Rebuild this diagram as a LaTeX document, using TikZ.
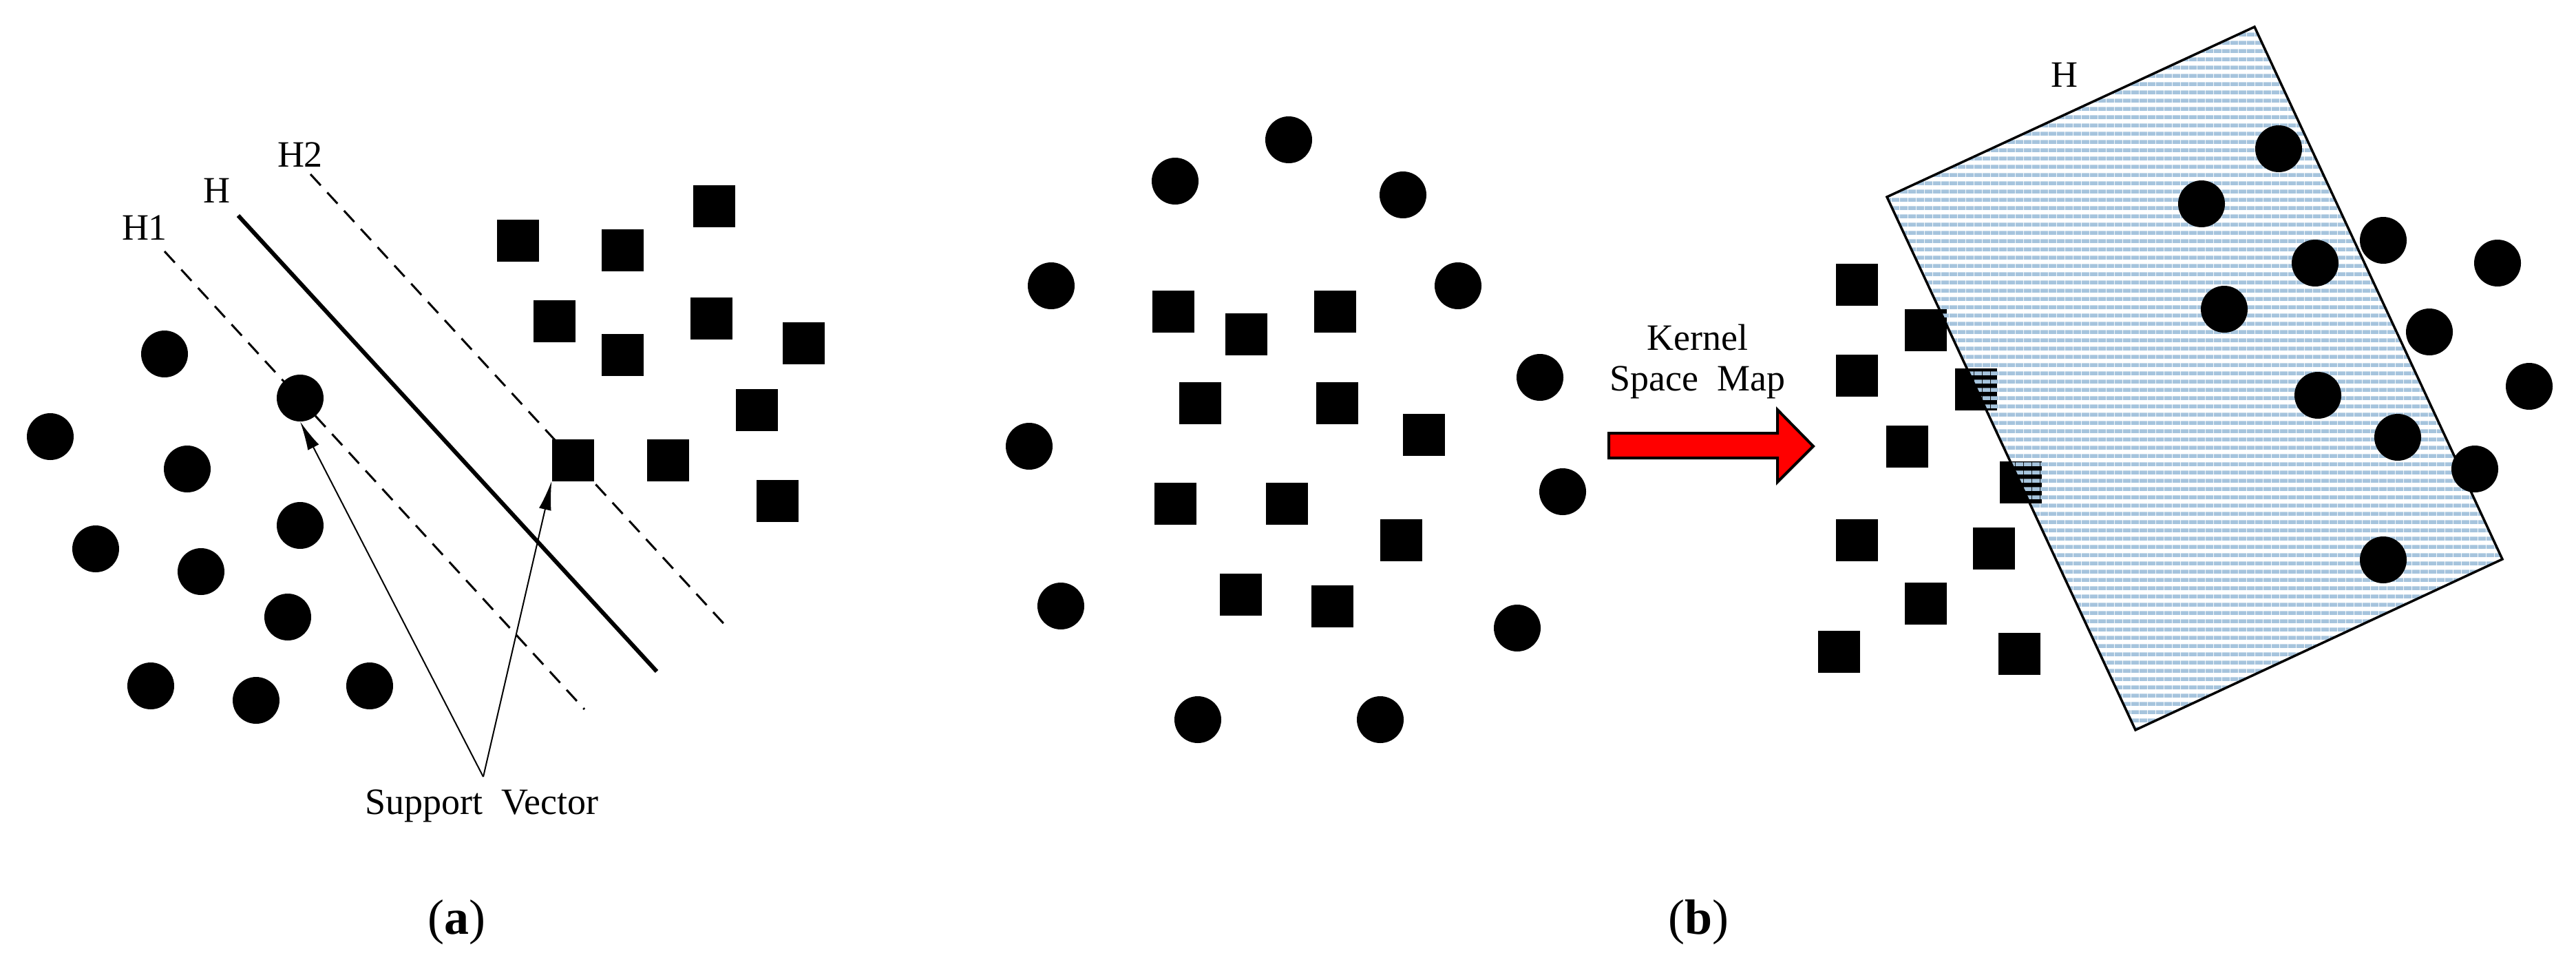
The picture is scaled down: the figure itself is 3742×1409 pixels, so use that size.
\documentclass[tikz,border=0pt]{standalone}
\usepackage{fontspec}
\newfontfamily\serf{Liberation Serif}
\usetikzlibrary{patterns.meta,arrows.meta}
\definecolor{stripe}{HTML}{A6C4DD}
\tikzdeclarepattern{name=hstripes, type=uncolored,
  bounding box={(0pt,0pt) and (12pt,12pt)}, tile size={(12pt,12pt)},
  code={\fill (0pt,0pt) rectangle (12pt,6pt);}}
\begin{document}
\begin{tikzpicture}[x=1pt,y=-1pt,
  dot/.style={circle,fill=black,minimum size=68pt,inner sep=0pt},
  sq/.style={rectangle,fill=black,minimum size=61pt,inner sep=0pt},
  lab/.style={font=\serf\fontsize{54}{60}\selectfont,inner sep=0pt},
  subcap/.style={font=\serf\fontsize{72}{80}\selectfont,inner sep=0pt},
  hyper/.style={line width=6pt},
  margin/.style={line width=3pt,dash pattern=on 22pt off 14pt},
  sv/.style={line width=2pt,-{Latex[length=42pt,width=18pt]}}]
\useasboundingbox (0,0) rectangle (3742,1409);
% ---------- (a)
\foreach \n/\x/\y in {1/239/514,2/73/634,3/436/578,4/272/681,5/139/797,6/436/763,7/292/830,8/418/896,9/219/996,10/372/1017,11/537/996}
  \node[dot] (a\n) at (\x,\y) {};
\foreach \n/\x/\y in {1/752/349,2/904/363,3/1037/299,4/805/466,5/904/515,6/1033/462,7/1167/498,8/1099/595,9/832/668,10/970/668,11/1129/727}
  \node[sq] (as\n) at (\x,\y) {};
\coordinate (h0) at (346,313); \coordinate (h1) at (954,975);
\coordinate (hA0) at (239,365); \coordinate (hA1) at (849,1030);
\coordinate (hB0) at (451,253); \coordinate (hB1) at (1060,915);
\draw[hyper] (h0) -- (h1);
\draw[margin] (hA0) -- (hA1);
\draw[margin] (hB0) -- (hB1);
\node[lab] (lH1) at (210,331) {H1};
\node[lab] (lH) at (315,277) {H};
\node[lab] (lH2) at (436,225) {H2};
\node[lab] (svl) at (700,1170) {Support\ \ Vector};
\coordinate (svtip) at (702,1128);
\draw[sv] (svtip) -- (a3.south);
\draw[sv] (svtip) -- (as9.south west);
\node[subcap] (ca) at (663,1339) {(\textbf{a})};
% ---------- middle
\foreach \n/\x/\y in {1/1872/203,2/1707/263,3/2038/283,4/1527/415,5/2118/415,6/2237/548,7/1495/648,8/2270/714,9/1541/880,10/2204/912,11/1740/1045,12/2005/1045}
  \node[dot] (m\n) at (\x,\y) {};
\foreach \n/\x/\y in {1/1704/452,2/1810/485,3/1939/452,4/1743/585,5/1942/585,6/2068/631,7/1707/731,8/1869/731,9/2035/784,10/1802/863,11/1935/880}
  \node[sq] (ms\n) at (\x,\y) {};
% ---------- kernel arrow
\draw[fill=red,line width=4pt,line join=miter]
  (2337,629) -- (2582,629) -- (2582,595) -- (2634,648) -- (2582,700) -- (2582,665) -- (2337,665) -- cycle;
\node[lab] (k1) at (2466,490) {Kernel};
\node[lab] (k2) at (2466,555) {Space\ \ Map};
\node[subcap] (cb) at (2467,1339) {(\textbf{b})};
% ---------- right
\foreach \n/\x/\y in {1/2697/413,2/2797/479,3/2697/545,4/2870/565,5/2770/648,6/2935/700,7/2697/784,8/2896/796,9/2797/876,10/2671/946,11/2933/949}
  \node[sq] (rs\n) at (\x,\y) {};
\draw[line width=3.5pt,pattern={hstripes},pattern color=stripe]
  (3275,39) -- (2741,286) -- (3102,1060) -- (3635,812) -- cycle;
\node[lab] (lHr) at (2999,109) {H};
\foreach \n/\x/\y in {1/3310/216,2/3198/296,3/3462/349,4/3363/382,5/3628/382,6/3231/449,7/3529/482,8/3674/561,9/3367/574,10/3483/635,11/3595/681,12/3462/813}
  \node[dot] (r\n) at (\x,\y) {};
\end{tikzpicture}
\end{document}
